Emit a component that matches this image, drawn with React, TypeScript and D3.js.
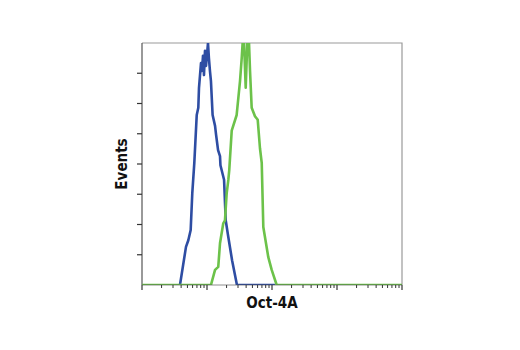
import * as d3 from "d3";
import React from "react";

// fluorescence intensity (log) vs. event count
const blueX = [3.84, 4.75, 5.16, 5.61, 5.94, 6.38, 6.95, 7.35, 7.53, 8.09, 8.38, 8.68, 8.99, 9.31, 9.66, 10.36, 10.7, 11.1, 11.5, 12.2, 13.3, 13.8, 14.8, 15.85, 16.1, 18.3, 19.4, 21.0, 24.3, 28.9, 111];
const blueY = [0, 63, 74, 91, 152, 202, 281, 293, 326, 367, 354, 379, 347, 387, 362, 400, 375, 354, 337, 281, 263, 248, 223, 213, 198, 174, 107, 83, 41, 0, 0];

const greenX = [1, 11.5, 13.3, 14.9, 15.85, 17.8, 18.9, 20.1, 21.3, 22.0, 24.0, 28.6, 32.2, 34.2, 35.8, 37.0, 39.4, 42.0, 44.3, 45.9, 48.7, 54.7, 60.3, 65.3, 69.5, 73.5, 87.7, 98.9, 118, 10000];
const greenY = [0, 0, 25, 30, 69, 102, 107, 152, 174, 190, 255, 281, 337, 375, 410, 405, 326, 410, 400, 354, 293, 279, 273, 226, 202, 96, 46, 25, 0, 0];

const yTickValues = [50, 100, 150, 200, 250, 300, 350];
const xDecades = [1, 10, 100, 1000, 10000];

const seriesColors = ["#2e4da3", "#6cc24a"];

export default function App() {
  const width = 520;
  const height = 350;
  const marginLeft = 142;
  const marginRight = 118;
  const marginTop = 43;
  const marginBottom = 65;

  const x = d3.scaleLog([1, 10000], [marginLeft, width - marginRight]);
  const y = d3.scaleLinear([0, 400], [height - marginBottom, marginTop]);

  const line = d3
    .line<[number, number]>()
    .x((d) => x(d[0]))
    .y((d) => y(d[1]));

  const blue = blueX.map((v, i) => [v, blueY[i]] as [number, number]);
  const green = greenX.map((v, i) => [v, greenY[i]] as [number, number]);

  const minorTicks: number[] = [];
  xDecades.slice(0, -1).forEach((d) => {
    for (let k = 2; k <= 9; k++) minorTicks.push(d * k);
  });

  const x0 = marginLeft;
  const x1 = width - marginRight;
  const y0 = height - marginBottom;
  const y1 = marginTop;
  const font = "'Liberation Sans Narrow', 'DejaVu Sans Condensed', Arial, sans-serif";

  return (
    <svg
      width={width}
      height={height}
      style={{ position: "absolute", left: 0, top: 0, background: "#fff" }}
    >
      <defs>
        <clipPath id="plot">
          <rect x={x0} y={y1} width={x1 - x0} height={y0 - y1} />
        </clipPath>
      </defs>

      {/* frame */}
      <path d={`M${x0},${y1}H${x1}V${y0}`} fill="none" stroke="#9a9a9a" strokeWidth={1.2} />
      <line x1={x0} x2={x0} y1={y1} y2={y0} stroke="#555" strokeWidth={1.2} />

      {/* y ticks */}
      {yTickValues.map((v) => (
        <line key={v} x1={x0 - 5} x2={x0} y1={y(v)} y2={y(v)} stroke="#333" strokeWidth={1.2} />
      ))}

      {/* curves */}
      <g clipPath="url(#plot)" fill="none" strokeWidth={2.6} strokeLinejoin="round">
        <path d={line(blue) ?? ""} stroke={seriesColors[0]} />
        <path d={line(green) ?? ""} stroke={seriesColors[1]} />
      </g>

      {/* x axis */}
      <line x1={x0} x2={x1} y1={y0} y2={y0} stroke="#444" strokeWidth={1} opacity={0.6} />
      {minorTicks.map((v) => (
        <line key={v} x1={x(v)} x2={x(v)} y1={y0} y2={y0 + 3} stroke="#333" strokeWidth={1} />
      ))}
      {xDecades.map((v) => (
        <line key={v} x1={x(v)} x2={x(v)} y1={y0} y2={y0 + 5} stroke="#333" strokeWidth={1.2} />
      ))}

      <text
        x={(x0 + x1) / 2}
        y={y0 + 23}
        textAnchor="middle"
        fontFamily={font}
        fontWeight="bold"
        fontSize={15}
        fill="#111"
      >
        Oct-4A
      </text>
      <text
        transform={`translate(${x0 - 15},${(y0 + y1) / 2}) rotate(-90)`}
        textAnchor="middle"
        fontFamily={font}
        fontWeight="bold"
        fontSize={15}
        fill="#111"
      >
        Events
      </text>
    </svg>
  );
}
